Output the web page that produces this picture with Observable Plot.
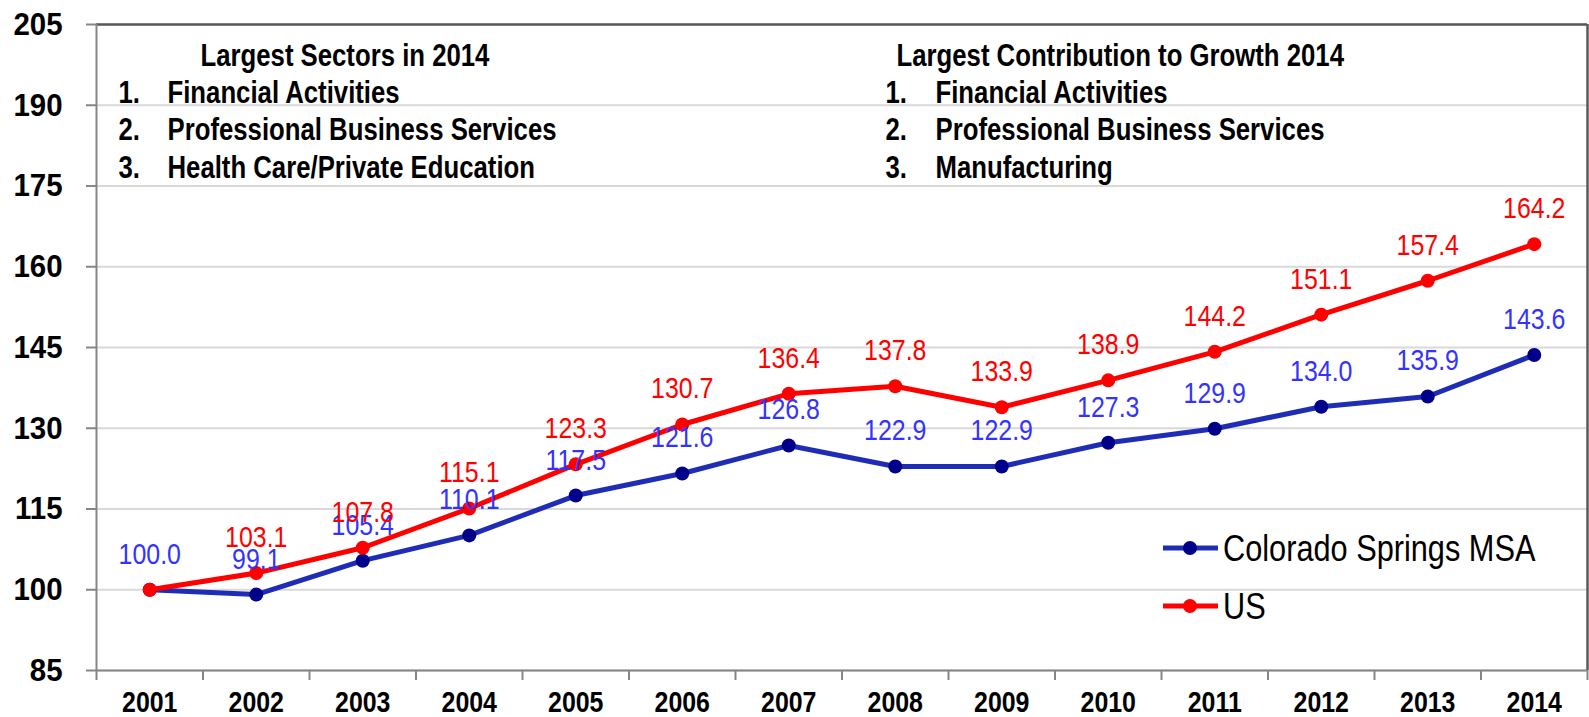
<!DOCTYPE html>
<html><head><meta charset="utf-8">
<script src="https://cdn.jsdelivr.net/npm/d3@7"></script>
<script src="https://cdn.jsdelivr.net/npm/@observablehq/plot@0.6"></script>
<style>
body{margin:0;background:#fff;}
#chart{position:relative;width:1589px;height:717px;}
</style></head><body><div id="chart"></div>
<script>
const years = [2001,2002,2003,2004,2005,2006,2007,2008,2009,2010,2011,2012,2013,2014];
const coloradoSprings = [100.0,99.1,105.4,110.1,117.5,121.6,126.8,122.9,122.9,127.3,129.9,134.0,135.9,143.6];
const us = [100.0,103.1,107.8,115.1,123.3,130.7,136.4,137.8,133.9,138.9,144.2,151.1,157.4,164.2];
const seriesNames = ["Colorado Springs MSA","US"];
const yTicks = [85,100,115,130,145,160,175,190,205];
const sectorsTitle = "Largest Sectors in 2014";
const sectorsList = ["Financial Activities","Professional Business Services","Health Care/Private Education"];
const growthTitle = "Largest Contribution to Growth 2014";
const growthList = ["Financial Activities","Professional Business Services","Manufacturing"];

const FONT = "'Liberation Sans',Arial,sans-serif";
const lineColor = ["#1f2db6","#ff0000"];
const dotColor = ["#00008b","#ff0000"];
const labelColor = ["#3333ff","#ff0000"];

const rows = years.flatMap((yr,i)=>[
  {year:yr, value:coloradoSprings[i], s:0},
  {year:yr, value:us[i], s:1}
]);
const cs = rows.filter(d=>d.s===0);
const usRows = rows.filter(d=>d.s===1);
const xDomain = [years[0]-0.5, years[years.length-1]+0.5];
const bounds = [...years.map(y=>y-0.5), years[years.length-1]+0.5];
const yDomain = [yTicks[0], yTicks[yTicks.length-1]];

const annoStyle = {frameAnchor:"top-left", textAnchor:"start", lineAnchor:"top", fontFamily:FONT, fontWeight:"bold", fontSize:31, fill:"#000"};
const LINE_STEP = 37.7;
function listMarks(list, dxNum, dxText, dy0) {
  return list.flatMap((item,i)=>[
    Plot.text([`${i+1}.`], {...annoStyle, text:d=>d, dx:dxNum, dy:dy0 + i*LINE_STEP}),
    Plot.text([item], {...annoStyle, text:d=>d, dx:dxText, dy:dy0 + i*LINE_STEP})
  ]);
}

const plot = Plot.plot({
  width:1589, height:717,
  marginLeft:96, marginRight:2, marginTop:24, marginBottom:47,
  style:{fontFamily:FONT, background:"#fff"},
  x:{type:"linear", domain:xDomain},
  y:{type:"linear", domain:yDomain},
  marks:[
    Plot.gridY(yTicks, {stroke:"#d9d9d9", strokeWidth:2, strokeOpacity:1}),
    Plot.ruleY([yDomain[1]], {stroke:"#595959", strokeWidth:2.5}),
    Plot.ruleX([xDomain[1]], {stroke:"#595959", strokeWidth:2.5}),
    Plot.ruleX([xDomain[0]], {stroke:"#868686", strokeWidth:2}),
    Plot.ruleY([yDomain[0]], {stroke:"#868686", strokeWidth:2}),
    Plot.axisY(yTicks, {tickSize:10, tickPadding:24, stroke:"#868686", strokeWidth:2, fill:"#000", fontSize:32, fontWeight:"bold", fontFamily:FONT, label:null, tickFormat:d=>String(d)}),
    Plot.axisX(bounds, {tickSize:10, stroke:"#868686", strokeWidth:2, tickFormat:()=>"", label:null}),
    Plot.axisX(years, {tickSize:0, tickPadding:20, fill:"#000", fontSize:30, fontWeight:"bold", fontFamily:FONT, label:null, tickFormat:d=>String(d)}),
    Plot.text([sectorsTitle], {...annoStyle, text:d=>d, dx:104, dy:19}),
    ...listMarks(sectorsList, 22, 71, 56),
    Plot.text([growthTitle], {...annoStyle, text:d=>d, dx:800, dy:19}),
    ...listMarks(growthList, 789, 839, 56),
    Plot.line(cs, {x:"year", y:"value", stroke:lineColor[0], strokeWidth:5}),
    Plot.dot(cs, {x:"year", y:"value", r:7, fill:dotColor[0], stroke:"none"}),
    Plot.line(usRows, {x:"year", y:"value", stroke:lineColor[1], strokeWidth:5}),
    Plot.dot(usRows, {x:"year", y:"value", r:7, fill:dotColor[1], stroke:"none"}),
    Plot.text(cs, {x:"year", y:"value", text:d=>d.value.toFixed(1), dy:-35.6, fill:labelColor[0], fontSize:30, fontFamily:FONT}),
    Plot.text(usRows.filter((d,i)=>d.value!==cs[i].value), {x:"year", y:"value", text:d=>d.value.toFixed(1), dy:-35.6, fill:labelColor[1], fontSize:30, fontFamily:FONT})
  ]
});
document.getElementById("chart").appendChild(plot);

// legend drawn inside the plot SVG
const svg = d3.select(plot);
const leg = svg.append("g").attr("font-family", FONT).attr("font-size", 37).attr("text-anchor","start").attr("class","legend");
const legY = [548, 606];
seriesNames.forEach((name,i)=>{
  const g = leg.append("g").attr("transform", `translate(0,${legY[i]})`);
  g.append("line").attr("x1",1163).attr("x2",1218).attr("y1",0).attr("y2",0).attr("stroke",lineColor[i]).attr("stroke-width",5);
  g.append("circle").attr("cx",1190).attr("cy",0).attr("r",7).attr("fill",dotColor[i]);
  g.append("text").attr("x",1223).attr("y",13).attr("fill","#000").text(name);
});

// condense glyphs horizontally to mimic the narrow typeface of the original
svg.selectAll("text").each(function(){
  if (this.querySelector("tspan")) return;
  const len = this.getComputedTextLength();
  if (!len) return;
  const yAxis = this.closest('g[aria-label="y-axis tick label"]');
  const k = yAxis ? 0.92 : 0.83;
  this.setAttribute("textLength", (len*k).toFixed(2));
  this.setAttribute("lengthAdjust", "spacingAndGlyphs");
});
</script></body></html>
